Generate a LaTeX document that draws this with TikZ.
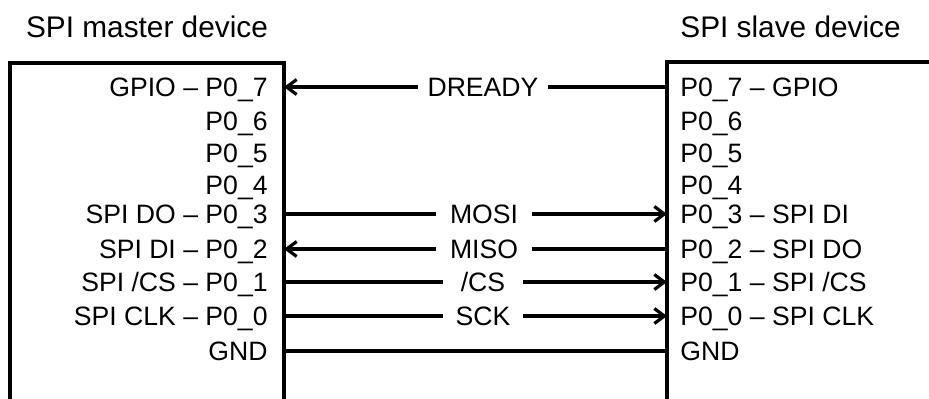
\documentclass[tikz,border=0pt]{standalone}
\usepackage{fontspec}
\setmainfont{Liberation Sans}
\usetikzlibrary{arrows.meta}
\begin{document}
\begin{tikzpicture}[x=0.5pt,y=-0.5pt,
  boxline/.style={line width=1.6pt, line join=miter},
  sig/.style={line width=1.6pt},
  tip/.style={-{Straight Barb[length=5pt,width=7.5pt]}},
  pinL/.style={anchor=base east, inner sep=0pt, font=\fontsize{13.3pt}{15pt}\selectfont},
  pinR/.style={anchor=base west, inner sep=0pt, font=\fontsize{13.3pt}{15pt}\selectfont},
  lbl/.style={anchor=base, fill=white, inner xsep=0pt, inner ysep=1pt, text depth=0pt, font=\fontsize{13.3pt}{15pt}\selectfont},
  ttl/.style={inner sep=0pt, font=\fontsize{14.9pt}{17pt}\selectfont}]
\useasboundingbox (0,0) rectangle (929,398);
\clip (0,0) rectangle (929,398);
% boxes
\draw[boxline] (10,405) -- (10,63) -- (284,63) -- (284,405);
\draw[boxline] (940,62) -- (667,62) -- (667,405);
% titles
\node[ttl, anchor=base] (tm) at (147,37) {SPI master device};
\node[ttl, anchor=base west] (ts) at (680,37) {SPI slave device};
% pin coordinates
\foreach \n/\y in {7/87,6/121,5/153,4/185,3/214,2/249,1/282,0/316,g/351}{
  \coordinate (m\n) at (284,\y);
  \coordinate (s\n) at (667,\y);
}
% master labels
\node[pinL] (ml7) at (268,96) {GPIO – P0\_7};
\node[pinL] (ml6) at (268,130) {P0\_6};
\node[pinL] (ml5) at (268,162) {P0\_5};
\node[pinL] (ml4) at (268,194) {P0\_4};
\node[pinL] (ml3) at (268,223) {SPI DO – P0\_3};
\node[pinL] (ml2) at (268,258) {SPI DI – P0\_2};
\node[pinL] (ml1) at (268,291) {SPI /CS – P0\_1};
\node[pinL] (ml0) at (268,325) {SPI CLK – P0\_0};
\node[pinL] (mlg) at (268,360) {GND};
% slave labels
\node[pinR] (sl7) at (680,96) {P0\_7 – GPIO};
\node[pinR] (sl6) at (680,130) {P0\_6};
\node[pinR] (sl5) at (680,162) {P0\_5};
\node[pinR] (sl4) at (680,194) {P0\_4};
\node[pinR] (sl3) at (680,223) {P0\_3 – SPI DI};
\node[pinR] (sl2) at (680,258) {P0\_2 – SPI DO};
\node[pinR] (sl1) at (680,291) {P0\_1 – SPI /CS};
\node[pinR] (sl0) at (680,325) {P0\_0 – SPI CLK};
\node[pinR] (slg) at (680,360) {GND};
% connectors
\draw[sig,tip] (s7) -- (m7);
\draw[sig,tip] (m3) -- (s3);
\draw[sig,tip] (s2) -- (m2);
\draw[sig,tip] (m1) -- (s1);
\draw[sig,tip] (m0) -- (s0);
\draw[sig] (mg) -- (sg);
% signal labels
\node[lbl, minimum width=65pt] (ldr) at (483,96) {DREADY};
\node[lbl, minimum width=48pt] (lmosi) at (484,223) {MOSI};
\node[lbl, minimum width=48pt] (lmiso) at (484,258) {MISO};
\node[lbl, minimum width=40pt] (lcs) at (483,291) {/CS};
\node[lbl, minimum width=40pt] (lsck) at (483,325) {SCK};
\end{tikzpicture}
\end{document}
